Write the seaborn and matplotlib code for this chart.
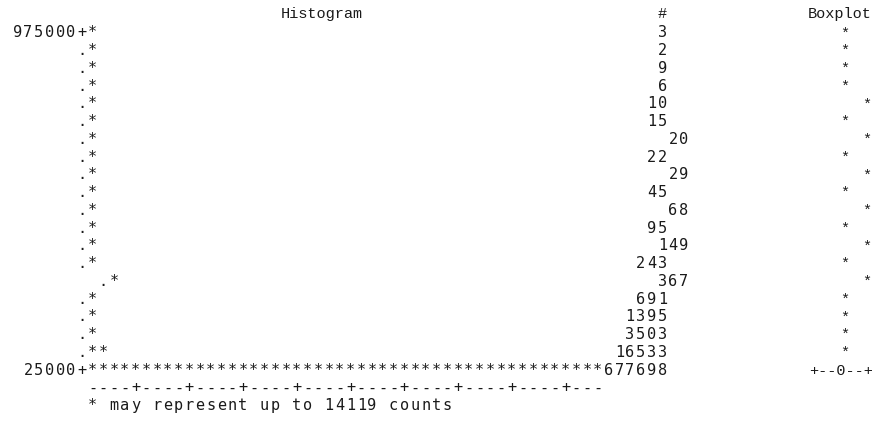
import matplotlib
matplotlib.use("Agg")
import matplotlib.pyplot as plt
import seaborn as sns

# dane z wykresu tekstowego (PROC UNIVARIATE, histogram + boxplot)
counts = [3, 2, 9, 6, 10, 15, 20, 22, 29, 45, 68, 95, 149, 243, 367,
          691, 1395, 3503, 16533, 677698]
bar_stars = [1, 1, 1, 1, 1, 1, 1, 1, 1, 1, 1, 1, 1, 1, 1, 1, 1, 1, 2, 48]
top_label = "975000"
bottom_label = "25000"
box_marks = ["*"] * 19 + ["+--0--+"]
stars_per_count = 14119

# przesuniecia kolumn widoczne na oryginale (w znakach)
hist_shift = [0] * 14 + [2] + [0] * 5
count_shift = [0, 0, 0, 0, 0, 0, 2, 0, 2, 0, 2, 0, 2, 0, 2, 0, 0, 0, 0, 0]
box_shift = [0, 0, 0, 0, 2, 0, 2, 0, 2, 0, 2, 0, 2, 0, 2, 0, 0, 0, 0, 0]

# siatka znakow w pikselach
W, H = 883, 421
X0, CW = 11.9, 10.75
Y0, RH = 32.0, 17.75
BASE = 0.30

sns.set_theme(style="white")
plt.rcParams["font.family"] = ["DejaVu Sans Mono"]

fig = plt.figure(figsize=(W / 100, H / 100), dpi=100)
ax = fig.add_axes([0, 0, 1, 1])
ax.set_xlim(-X0 / CW, (W - X0) / CW)
ax.set_ylim((H - Y0) / RH, -Y0 / RH)
ax.axis("off")

BODY = dict(fontsize=11, family="DejaVu Sans Mono", color="#1a1a1a",
            ha="center", va="baseline")
HEAD = dict(fontsize=11, family="Liberation Mono", color="#1a1a1a",
            ha="center", va="baseline")


def put(text, col, row):
    # kazdy znak w osobnej kolumnie siatki
    for i, ch in enumerate(text):
        if ch != " ":
            ax.text(col + i + 0.5, row + BASE, ch, **BODY)


# naglowki
ax.text(28.85, -1.1 + BASE, "Histogram", **HEAD)
ax.text(60.5, -1.1 + BASE, "#", **HEAD)
ax.text(77.0, -1.1 + BASE, "Boxplot", **HEAD)

n = len(counts)
for r in range(n):
    s = hist_shift[r]
    if r == 0:
        put(top_label + "+", 0, r)
    elif r == n - 1:
        put(bottom_label + "+", 1, r)
    else:
        put(".", 6 + s, r)
    put("*" * bar_stars[r], 7 + s, r)

    txt = str(counts[r])
    put(txt, 61 + count_shift[r] - len(txt), r)

    mark = box_marks[r]
    if mark == "*":
        ax.text(77.5 + box_shift[r], r + BASE, mark, **HEAD)
    else:
        ax.text(77.1, r + BASE, mark, **HEAD)

put("----+" * 9 + "---", 7, n)
put("* may represent up to %d counts" % stars_per_count, 7, n + 1)

fig.savefig("out.png", dpi=100, facecolor="white")
plt.close(fig)
